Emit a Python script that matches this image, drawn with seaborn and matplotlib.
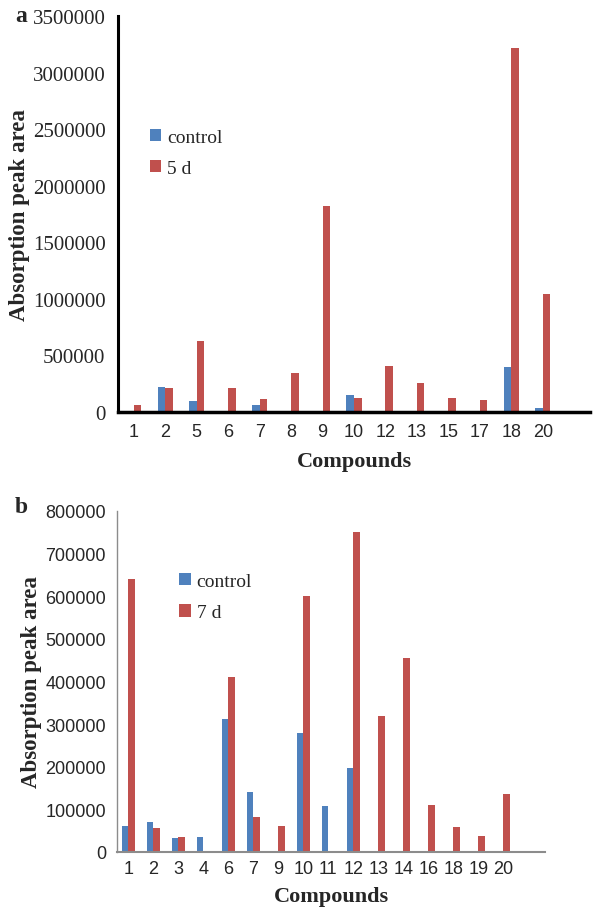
import matplotlib
matplotlib.use("Agg")
import matplotlib.pyplot as plt
import matplotlib.ticker as mticker
import seaborn as sns
import pandas as pd

# panel a: control vs 5 d
compounds_a = ["1", "2", "5", "6", "7", "8", "9", "10", "12", "13", "15", "17", "18", "20"]
control_a = [5000, 220000, 100000, 3000, 65000, 5000, 0, 150000, 5000, 5000, 5000, 5000, 395000, 35000]
day5_a = [60000, 215000, 625000, 215000, 115000, 345000, 1820000, 125000, 410000, 255000, 125000, 105000, 3220000, 1040000]

# panel b: control vs 7 d
compounds_b = ["1", "2", "3", "4", "6", "7", "9", "10", "11", "12", "13", "14", "16", "18", "19", "20"]
control_b = [62000, 70000, 32000, 35000, 312000, 140000, 0, 280000, 108000, 197000, 0, 0, 0, 0, 0, 0]
day7_b = [640000, 57000, 35000, 0, 410000, 83000, 62000, 600000, 0, 750000, 318000, 455000, 110000, 58000, 38000, 135000]

BLUE = "#4F81BD"
RED = "#C0504D"
SERIF = "Liberation Serif"
SANS = "Liberation Sans"


def long_form(cats, ctrl, treat, treat_name):
    return pd.DataFrame({
        "compound": cats * 2,
        "value": ctrl + treat,
        "series": ["control"] * len(cats) + [treat_name] * len(cats),
    })


sns.set_style("white")

fig = plt.figure(figsize=(5.98, 9.12), dpi=100)
ax_a = fig.add_axes([118 / 598, 1 - 413 / 912, 472 / 598, 396 / 912])
ax_b = fig.add_axes([117 / 598, 1 - 853 / 912, 428 / 598, 341 / 912])

df_a = long_form(compounds_a, control_a, day5_a, "5 d")
df_b = long_form(compounds_b, control_b, day7_b, "7 d")

sns.barplot(data=df_a, x="compound", y="value", hue="series", order=compounds_a,
            hue_order=["control", "5 d"], palette=[BLUE, RED], width=0.48, saturation=1,
            ax=ax_a, linewidth=0, errorbar=None)
sns.barplot(data=df_b, x="compound", y="value", hue="series", order=compounds_b,
            hue_order=["control", "7 d"], palette=[BLUE, RED], width=0.52, saturation=1,
            ax=ax_b, linewidth=0, errorbar=None)

# panel a styling
ax_a.set_xlim(-0.5, 14.5)
ax_a.set_ylim(0, 3500000)
ax_a.yaxis.set_major_locator(mticker.MultipleLocator(500000))
ax_a.yaxis.set_major_formatter(mticker.StrMethodFormatter("{x:.0f}"))
for s in ["top", "right"]:
    ax_a.spines[s].set_visible(False)
ax_a.spines["left"].set_linewidth(2.2)
ax_a.spines["left"].set_color("black")
ax_a.spines["bottom"].set_linewidth(2.5)
ax_a.spines["bottom"].set_color("black")
ax_a.tick_params(axis="y", direction="out", length=6, width=1.5, color="black", pad=3)
ax_a.tick_params(axis="x", length=0, pad=8)
for lab in ax_a.get_yticklabels():
    lab.set_fontfamily(SERIF)
    lab.set_fontsize(15)
for lab in ax_a.get_xticklabels():
    lab.set_fontfamily(SANS)
    lab.set_fontsize(13)
ax_a.set_xlabel("Compounds", fontfamily=SERIF, fontsize=16, fontweight="bold", labelpad=8)
ax_a.set_ylabel("Absorption peak area", fontfamily=SERIF, fontsize=16.5, fontweight="bold", labelpad=2)
ax_a.legend(loc="upper left", bbox_to_anchor=(0.03, 0.76), frameon=False,
            prop={"family": SERIF, "size": 14}, handlelength=0.6, handleheight=0.6,
            handletextpad=0.3, labelspacing=0.75)
ax_a.grid(False)

# panel b styling
ax_b.set_xlim(-0.45, 16.67)
ax_b.set_ylim(0, 800000)
ax_b.yaxis.set_major_locator(mticker.MultipleLocator(100000))
ax_b.yaxis.set_major_formatter(mticker.StrMethodFormatter("{x:.0f}"))
for s in ["top", "right"]:
    ax_b.spines[s].set_visible(False)
ax_b.spines["left"].set_color("#8c8c8c")
ax_b.spines["left"].set_linewidth(1.0)
ax_b.spines["bottom"].set_color("#8c8c8c")
ax_b.spines["bottom"].set_linewidth(1.5)
ax_b.tick_params(axis="y", direction="out", length=5, width=1, color="#8c8c8c", pad=3)
ax_b.tick_params(axis="x", length=0, pad=6)
for lab in ax_b.get_yticklabels():
    lab.set_fontfamily(SANS)
    lab.set_fontsize(13)
for lab in ax_b.get_xticklabels():
    lab.set_fontfamily(SANS)
    lab.set_fontsize(13)
ax_b.set_xlabel("Compounds", fontfamily=SERIF, fontsize=16, fontweight="bold", labelpad=6)
ax_b.set_ylabel("Absorption peak area", fontfamily=SERIF, fontsize=16.5, fontweight="bold", labelpad=2)
ax_b.legend(loc="upper left", bbox_to_anchor=(0.104, 0.87), frameon=False,
            prop={"family": SERIF, "size": 14}, handlelength=0.6, handleheight=0.6,
            handletextpad=0.3, labelspacing=0.75)
ax_b.grid(False)

# panel letters
fig.text(15 / 598, 1 - 17 / 912, "a", fontfamily=SERIF, fontsize=17, fontweight="bold", va="center")
fig.text(15 / 598, 1 - 508 / 912, "b", fontfamily=SERIF, fontsize=17, fontweight="bold", va="center")

fig.savefig("out.png", dpi=100)
